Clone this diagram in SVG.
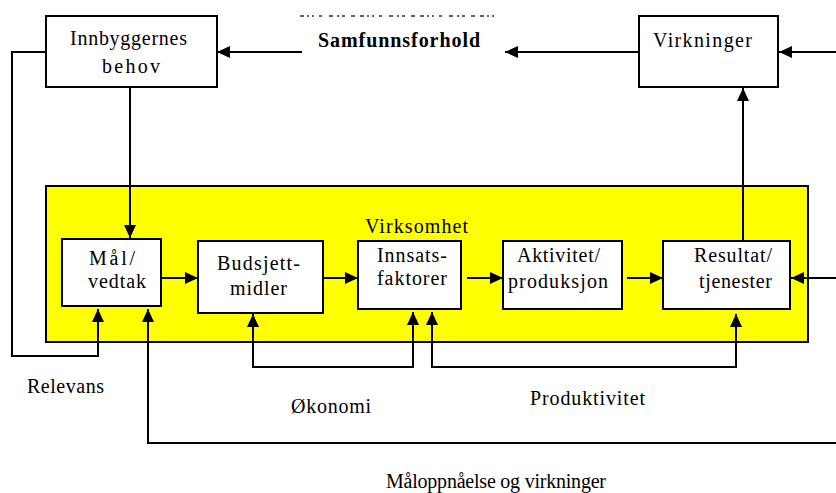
<svg xmlns="http://www.w3.org/2000/svg" width="836" height="493" viewBox="0 0 836 493">
<style>
.box{fill:#fff;stroke:#000;stroke-width:2}
.frame{fill:#ffff00;stroke:#000;stroke-width:2}
.t{font-family:"Liberation Serif","Times New Roman",serif;font-size:20px;fill:#000}
.b{font-weight:bold}
.c{fill:none;stroke:#000;stroke-width:2}
</style>
<defs>
<marker id="ah" markerUnits="userSpaceOnUse" markerWidth="14" markerHeight="14" refX="13" refY="6" orient="auto-start-reverse" viewBox="0 0 14 12">
<path d="M0,0 L13,6 L0,12 z" fill="#000"/>
</marker>
</defs>
<rect width="836" height="493" fill="#fff"/>
<line x1="300" y1="16" x2="498" y2="16" stroke="#000" stroke-width="1.5" stroke-dasharray="4 3 2 3 2 5 3 7 4 4 2 3 3 6 4 5" opacity="0.8"/>
<g id="virksomhet">
<rect class="frame" x="46" y="186" width="762" height="156"/>
<text class="t" x="365" y="233" textLength="103" fill="#222">Virksomhet</text>
</g>
<g id="connectors">
<path class="c" d="M302,52 H217" marker-end="url(#ah)"/>
<path class="c" d="M641,52 H505" marker-end="url(#ah)"/>
<path class="c" d="M836,52 H779" marker-end="url(#ah)"/>
<path class="c" d="M130,87 V238" marker-end="url(#ah)"/>
<path class="c" d="M46,52 H12 V356 H98 V309" marker-end="url(#ah)"/>
<path class="c" d="M161,278 H198" marker-end="url(#ah)"/>
<path class="c" d="M323,278 H358" marker-end="url(#ah)"/>
<path class="c" d="M467,278 H503" marker-end="url(#ah)"/>
<path class="c" d="M627,278 H663" marker-end="url(#ah)"/>
<path class="c" d="M836,278 H791" marker-end="url(#ah)"/>
<path class="c" d="M743,241 V88" marker-end="url(#ah)"/>
<path class="c" d="M253,314 V367 H413 V312" marker-start="url(#ah)" marker-end="url(#ah)"/>
<path class="c" d="M432,312 V367 H736 V314" marker-start="url(#ah)" marker-end="url(#ah)"/>
<path class="c" d="M836,443 H148 V309" marker-end="url(#ah)"/>
</g>
<g id="innbyggernes">
<rect class="box" x="46" y="16" width="171" height="71"/>
<text class="t" x="70" y="45" textLength="117">Innbyggernes</text>
<text class="t" x="102" y="73" textLength="58">behov</text>
</g>
<g id="samfunnsforhold">
<text class="t b" x="318" y="47" textLength="162">Samfunnsforhold</text>
</g>
<g id="virkninger">
<rect class="box" x="639" y="16" width="139" height="71"/>
<text class="t" x="653" y="47" textLength="99">Virkninger</text>
</g>
<g id="mal">
<rect class="box" x="62" y="239" width="99" height="67"/>
<text class="t" x="89" y="265" textLength="46">Mål/</text>
<text class="t" x="88" y="288" textLength="58">vedtak</text>
</g>
<g id="budsjett">
<rect class="box" x="198" y="241" width="125" height="72"/>
<text class="t" x="217" y="270" textLength="83">Budsjett-</text>
<text class="t" x="230" y="295" textLength="57">midler</text>
</g>
<g id="innsats">
<rect class="box" x="358" y="241" width="103" height="68"/>
<text class="t" x="377" y="262" textLength="70">Innsats-</text>
<text class="t" x="377" y="285" textLength="70">faktorer</text>
</g>
<g id="aktivitet">
<rect class="box" x="503" y="241" width="119" height="68"/>
<text class="t" x="517" y="262" textLength="83">Aktivitet/</text>
<text class="t" x="508" y="288" textLength="100">produksjon</text>
</g>
<g id="resultat">
<rect class="box" x="663" y="241" width="127" height="68"/>
<text class="t" x="694" y="262" textLength="78">Resultat/</text>
<text class="t" x="699" y="288" textLength="73">tjenester</text>
</g>
<g id="labels">
<text class="t" x="27" y="393" textLength="77">Relevans</text>
<text class="t" x="291" y="413" textLength="80">Økonomi</text>
<text class="t" x="530" y="405" textLength="115">Produktivitet</text>
<text class="t" x="386" y="488" textLength="220">Måloppnåelse og virkninger</text>
</g>
</svg>
